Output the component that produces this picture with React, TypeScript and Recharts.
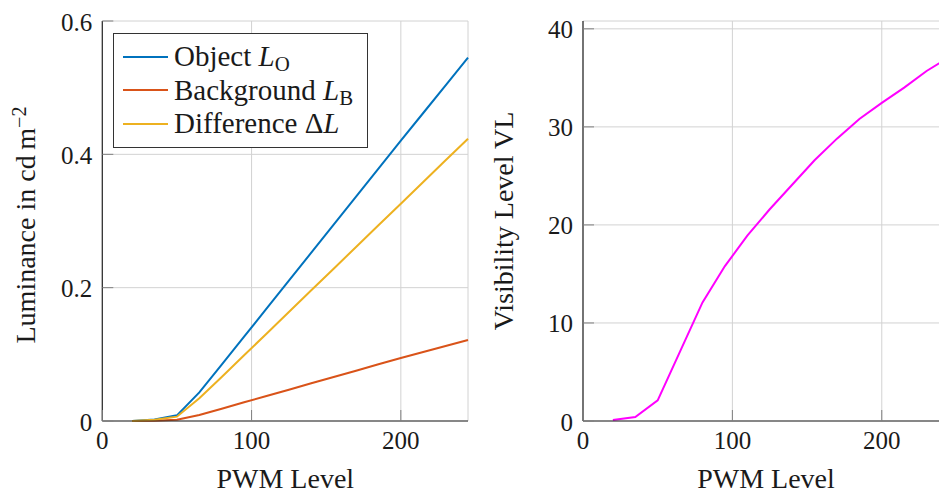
import React from "react";
import { LineChart, Line, XAxis, YAxis, CartesianGrid, Legend, Label } from "recharts";

// PWM steps shared by both panels
const pwm = [20, 35, 50, 65, 80, 95, 110, 125, 140, 155, 170, 185, 200, 215, 230, 245];
// luminance in cd/m^2
const objectLum = [0, 0.0022, 0.0085, 0.043, 0.0845, 0.1265, 0.1685, 0.2105, 0.2525, 0.2945, 0.3365, 0.3785, 0.4205, 0.462, 0.5035, 0.545];
const backgroundLum = [0, 0.0002, 0.002, 0.009, 0.0185, 0.028, 0.0375, 0.047, 0.0565, 0.066, 0.0755, 0.085, 0.0945, 0.1035, 0.1125, 0.1215];
const diffLum = [0, 0.002, 0.0065, 0.034, 0.066, 0.0985, 0.131, 0.1635, 0.196, 0.2285, 0.261, 0.2935, 0.326, 0.3585, 0.391, 0.4235];
// visibility level
const visibility = [0.1, 0.4, 2.1, 7.1, 12.1, 15.8, 18.9, 21.6, 24.1, 26.6, 28.8, 30.8, 32.45, 34.0, 35.7, 37.1];

const xTicks = [0, 100, 200];
const lumTicks = [0, 0.2, 0.4, 0.6];
const vlTicks = [0, 10, 20, 30, 40];
const legendOrder = ["object", "background", "difference"];

const lumData = pwm.map((x, i) => ({
  pwm: x,
  object: objectLum[i],
  background: backgroundLum[i],
  difference: diffLum[i],
}));
const vlData = pwm.map((x, i) => ({ pwm: x, vl: visibility[i] }));

const TEXT = "#1a1a1a";
const FRAME = "#262626";
const GRID = "#d2d2d2";
const TICK = "#808080";
const TICK_LEN = 11;

const PLOT_TOP = 13;
const PLOT_H = 400;
const CHART_H = 486;

function BottomTick(props: any) {
  const { x, y, payload } = props;
  return (
    <g>
      <line x1={x} x2={x} y1={y} y2={y - TICK_LEN} stroke={TICK} />
      <text x={x} y={y + 28} textAnchor="middle" fontSize={25} fill={TEXT}>
        {payload.value}
      </text>
    </g>
  );
}

function LeftTick(props: any) {
  const { x, y, payload } = props;
  return (
    <g>
      <line x1={x} x2={x + TICK_LEN} y1={y} y2={y} stroke={TICK} />
      <text x={x - 10} y={y} dy="0.38em" textAnchor="end" fontSize={25} fill={TEXT}>
        {payload.value}
      </text>
    </g>
  );
}

const NoLabel = () => <g />;

function XTitle({ cx }: { cx: number }) {
  return (
    <text x={cx} y={480} textAnchor="middle" fontSize={28} fill={TEXT}>
      PWM Level
    </text>
  );
}

const sub = { fontSize: "0.72em", verticalAlign: "-0.22em", lineHeight: 0 };

const legendLabels: Record<string, React.ReactNode> = {
  object: (
    <>
      Object <i>L</i>
      <span style={sub}>O</span>
    </>
  ),
  background: (
    <>
      Background <i>L</i>
      <span style={sub}>B</span>
    </>
  ),
  difference: (
    <>
      Difference Δ<i>L</i>
    </>
  ),
};

function LumLegend({ payload }: { payload?: any[] }) {
  const items = [...(payload || [])].sort(
    (a, b) => legendOrder.indexOf(a.dataKey) - legendOrder.indexOf(b.dataKey)
  );
  return (
    <div
      style={{
        width: 255,
        boxSizing: "border-box",
        border: "1px solid #333",
        background: "#fff",
        padding: "6px 0",
        fontSize: 29,
        color: TEXT,
      }}
    >
      {items.map((p) => (
        <div key={p.dataKey} style={{ display: "flex", alignItems: "center", height: 33.5 }}>
          <span style={{ width: 45, height: 2, background: p.color, marginLeft: 9, marginRight: 6 }} />
          <span style={{ whiteSpace: "nowrap", lineHeight: 1 }}>{legendLabels[p.dataKey]}</span>
        </div>
      ))}
    </div>
  );
}

function LuminancePanel() {
  const yW = 94.3;
  const plotCx = yW + 366 / 2;
  const labelY = PLOT_TOP + PLOT_H / 2 + 4;
  return (
    <LineChart
      width={470}
      height={CHART_H}
      data={lumData}
      margin={{ top: PLOT_TOP, right: 10, bottom: 0, left: 0 }}
    >
      <CartesianGrid stroke={GRID} />
      <XAxis
        type="number"
        dataKey="pwm"
        domain={[0, 245]}
        ticks={xTicks}
        interval={0}
        height={CHART_H - PLOT_TOP - PLOT_H}
        tickSize={0}
        tickMargin={0}
        tickLine={false}
        axisLine={{ stroke: FRAME, strokeWidth: 1.2 }}
        tick={BottomTick}
      >
        <Label content={() => <XTitle cx={plotCx} />} />
      </XAxis>
      <YAxis
        type="number"
        domain={[0, 0.6]}
        ticks={lumTicks}
        interval={0}
        width={yW}
        tickSize={0}
        tickMargin={0}
        tickLine={false}
        axisLine={{ stroke: FRAME, strokeWidth: 1.2 }}
        tick={LeftTick}
      >
        <Label
          content={() => (
            <text
              x={27}
              y={labelY}
              transform={`rotate(-90, 27, ${labelY})`}
              textAnchor="middle"
              fontSize={28}
              fill={TEXT}
            >
              Luminance in cd{"\u2009"}m
              <tspan dy="-0.45em" fontSize="0.72em">
                −2
              </tspan>
            </text>
          )}
        />
      </YAxis>
      <XAxis
        xAxisId="top"
        orientation="top"
        type="number"
        dataKey="pwm"
        domain={[0, 245]}
        ticks={xTicks}
        interval={0}
        mirror
        height={0}
        tickSize={TICK_LEN}
        tickLine={{ stroke: TICK }}
        axisLine={{ stroke: FRAME, strokeWidth: 1.2 }}
        tick={NoLabel}
      />
      <YAxis
        yAxisId="right"
        orientation="right"
        type="number"
        domain={[0, 0.6]}
        ticks={lumTicks}
        interval={0}
        mirror
        width={0}
        tickSize={TICK_LEN}
        tickLine={{ stroke: TICK }}
        axisLine={{ stroke: FRAME, strokeWidth: 1.2 }}
        tick={NoLabel}
      />
      <Line type="linear" dataKey="object" name="Object" stroke="#0072BD" strokeWidth={2} dot={false} isAnimationActive={false} />
      <Line type="linear" dataKey="background" name="Background" stroke="#D95319" strokeWidth={2} dot={false} isAnimationActive={false} />
      <Line type="linear" dataKey="difference" name="Difference" stroke="#EDB120" strokeWidth={2} dot={false} isAnimationActive={false} />
      <Legend
        layout="horizontal"
        verticalAlign="middle"
        align="center"
        wrapperStyle={{ left: 105, top: 25, width: 255 }}
        content={(props: any) => <LumLegend payload={props.payload} />}
      />
    </LineChart>
  );
}

function VisibilityPanel() {
  const yW = 105;
  const plotCx = yW + 366 / 2;
  const labelY = PLOT_TOP + PLOT_H / 2;
  return (
    <LineChart
      width={480}
      height={CHART_H}
      data={vlData}
      margin={{ top: PLOT_TOP, right: 9, bottom: 0, left: 0 }}
    >
      <CartesianGrid stroke={GRID} />
      <XAxis
        type="number"
        dataKey="pwm"
        domain={[0, 245]}
        ticks={xTicks}
        interval={0}
        height={CHART_H - PLOT_TOP - PLOT_H}
        tickSize={0}
        tickMargin={0}
        tickLine={false}
        axisLine={{ stroke: FRAME, strokeWidth: 1.2 }}
        tick={BottomTick}
      >
        <Label content={() => <XTitle cx={plotCx} />} />
      </XAxis>
      <YAxis
        type="number"
        domain={[0, 40.8]}
        ticks={vlTicks}
        interval={0}
        width={yW}
        tickSize={0}
        tickMargin={0}
        tickLine={false}
        axisLine={{ stroke: FRAME, strokeWidth: 1.2 }}
        tick={LeftTick}
      >
        <Label
          content={() => (
            <text
              x={35}
              y={labelY}
              transform={`rotate(-90, 35, ${labelY})`}
              textAnchor="middle"
              fontSize={28}
              fill={TEXT}
            >
              Visibility Level VL
            </text>
          )}
        />
      </YAxis>
      <XAxis
        xAxisId="top"
        orientation="top"
        type="number"
        dataKey="pwm"
        domain={[0, 245]}
        ticks={xTicks}
        interval={0}
        mirror
        height={0}
        tickSize={TICK_LEN}
        tickLine={{ stroke: TICK }}
        axisLine={{ stroke: FRAME, strokeWidth: 1.2 }}
        tick={NoLabel}
      />
      <YAxis
        yAxisId="right"
        orientation="right"
        type="number"
        domain={[0, 40.8]}
        ticks={vlTicks}
        interval={0}
        mirror
        width={0}
        tickSize={TICK_LEN}
        tickLine={{ stroke: TICK }}
        axisLine={{ stroke: FRAME, strokeWidth: 1.2 }}
        tick={NoLabel}
      />
      <Line type="linear" dataKey="vl" name="VL" stroke="#FF00FF" strokeWidth={2} dot={false} isAnimationActive={false} />
    </LineChart>
  );
}

export default function App() {
  return (
    <div
      style={{
        position: "relative",
        width: 939,
        height: CHART_H,
        overflow: "hidden",
        fontFamily: "'Liberation Serif', serif",
        background: "#fff",
      }}
    >
      <div style={{ position: "absolute", left: 0, top: 0 }}>
        <LuminancePanel />
      </div>
      <div style={{ position: "absolute", left: 470, top: 0 }}>
        <VisibilityPanel />
      </div>
    </div>
  );
}
